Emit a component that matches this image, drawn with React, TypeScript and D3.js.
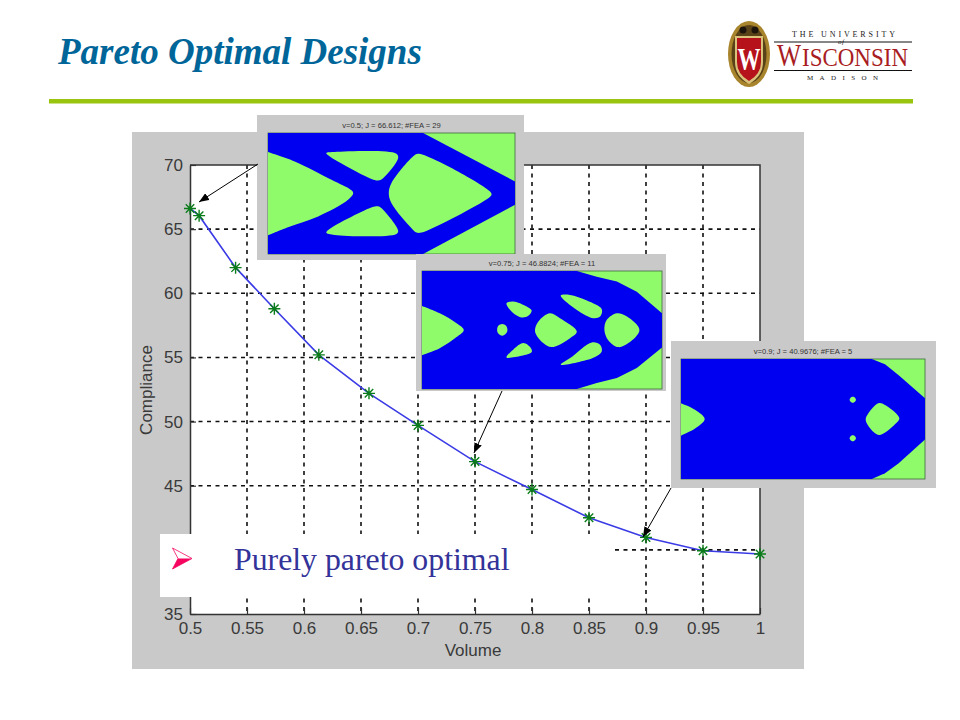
import React, { useEffect, useRef } from "react";
import * as d3 from "d3";

type Pt = [number, number];

const volume = [0.5, 0.508, 0.54, 0.574, 0.613, 0.657, 0.7, 0.75, 0.8, 0.85, 0.9, 0.95, 1];
const compliance = [66.61, 66.05, 62.0, 58.8, 55.2, 52.2, 49.7, 46.88, 44.7, 42.5, 40.97, 39.93, 39.68];
const xTicks = [0.5, 0.55, 0.6, 0.65, 0.7, 0.75, 0.8, 0.85, 0.9, 0.95, 1];
const yTicks = [35, 40, 45, 50, 55, 60, 65, 70];

// outlines, in a 100x100 frame
const outerA: Pt[] = [[0, 0], [62.8, 0], [100, 40], [100, 59.4], [62.8, 100], [0, 100]];
const notchA: Pt[] = [[0, 15.7], [10.8, 23.5], [25.7, 38.7], [33.5, 47], [34.5, 49.7], [32.4, 55.2], [20.3, 69], [8.1, 77.9], [0, 84.5]];
const holesA: Pt[][] = [
  [[23.6, 16.6], [27, 15.7], [52, 17.1], [52.7, 20.7], [46.6, 37.3], [44.6, 39.2], [41.9, 38], [24.9, 19.3]],
  [[60.8, 17.1], [89.9, 48.3], [90.5, 51.1], [89.2, 53.9], [62.2, 82.3], [60.1, 82.3], [58.1, 78.7], [50, 58], [48.9, 49.7], [50, 41.4], [58.8, 19.3]],
  [[43.3, 60.8], [44.9, 60.8], [46.6, 63.5], [52.7, 80.7], [52, 83.4], [27, 84.3], [23.6, 82.3], [40.5, 62.7]],
];

const outerB: Pt[] = [[0, 0], [64.5, 0], [72.8, 4.8], [81.2, 9], [89.5, 17.5], [100, 35.8], [100, 64.8], [89.5, 82.3], [81.2, 90.7], [72.8, 95], [64.5, 100], [0, 100]];
const notchB: Pt[] = [[0, 29.6], [7.4, 35.8], [14.4, 44.2], [17.4, 49.9], [14.4, 56], [7.4, 65.4], [0, 71.3]];
const holesB: Pt[][] = [
  [[35.2, 27.3], [38, 25.9], [43.6, 30.1], [45.7, 33.5], [44.3, 38], [41.5, 39.4], [37.3, 34.3]],
  [[33.4, 45], [35, 46.5], [35.6, 49.9], [35, 53], [33.4, 54.8], [31.8, 53], [31.3, 49.9], [31.8, 46.5]],
  [[53.3, 35.8], [57.5, 40], [64.5, 51.3], [61.7, 56.9], [54, 64.5], [50.5, 61.1], [47.1, 51.3], [48.5, 42.8]],
  [[57.8, 20.8], [61.7, 20.3], [68.7, 25.1], [74.9, 32.4], [74.2, 38.6], [71.4, 40], [64.5, 33]],
  [[81.2, 35.8], [85.4, 38.6], [90.6, 49.9], [86, 61.1], [81.8, 64.5], [77.6, 58.6], [76, 49.9], [77, 41.4]],
  [[35.2, 73.2], [38, 66.7], [42.2, 61.1], [45.4, 65.4], [45.7, 68.7], [41.5, 71.9]],
  [[57.8, 79.4], [61.7, 73.8], [70.8, 60.5], [74.2, 62.5], [74.9, 68.2], [72.1, 72.9], [64.5, 77.5]],
];

const outerC: Pt[] = [[0, 0], [78.2, 0], [83.6, 4.4], [89.1, 13.3], [100, 32.8], [100, 67], [89.1, 87], [83.6, 95.3], [78.2, 100], [0, 100]];
const notchC: Pt[] = [[0, 36.9], [5.9, 42.5], [9.7, 50], [5.9, 57.8], [0, 63.9]];
const holesC: Pt[][] = [
  [[70.4, 31.4], [71.3, 32.2], [71.7, 33.9], [71.3, 35.6], [70.4, 36.4], [69.5, 35.6], [69.1, 33.9], [69.5, 32.2]],
  [[70.4, 63.6], [71.3, 64.4], [71.7, 66.1], [71.3, 67.8], [70.4, 68.6], [69.5, 67.8], [69.1, 66.1], [69.5, 64.4]],
  [[80.9, 36.9], [83.6, 38.3], [89.5, 49.4], [87.7, 54.4], [81.5, 63.3], [78.8, 60.6], [75.7, 50.8], [76.8, 45.3]],
];

const insetTitles = ["v=0.5; J = 66.612; #FEA = 29", "v=0.75; J = 46.8824; #FEA = 11", "v=0.9; J = 40.9676; #FEA = 5"];

// matlab style star: four crossing strokes
const starSymbol = {
  draw(context: any, size: number) {
    const r = Math.sqrt(size);
    const k = r * Math.SQRT1_2;
    context.moveTo(-r, 0);
    context.lineTo(r, 0);
    context.moveTo(0, -r);
    context.lineTo(0, r);
    context.moveTo(-k, -k);
    context.lineTo(k, k);
    context.moveTo(-k, k);
    context.lineTo(k, -k);
  },
};

const App: React.FC = () => {
  const svgRef = useRef<SVGSVGElement | null>(null);

  useEffect(() => {
    if (!svgRef.current) return;
    document.body.style.margin = "0";
    const svg = d3.select(svgRef.current);
    svg.selectAll("*").remove();

    const x = d3.scaleLinear().domain([0.5, 1]).range([190, 760]);
    const y = d3.scaleLinear().domain([35, 70]).range([614, 165]);

    svg.append("rect").attr("width", 960).attr("height", 720).attr("fill", "#fff");

    // slide header
    svg
      .append("text")
      .attr("x", 58)
      .attr("y", 64)
      .attr("font-family", "Liberation Serif")
      .attr("font-weight", "bold")
      .attr("font-style", "italic")
      .attr("font-size", 37)
      .attr("fill", "#006699")
      .text("Pareto Optimal Designs");
    svg.append("rect").attr("x", 49).attr("y", 99).attr("width", 864).attr("height", 4.5).attr("fill", "#99c510");

    // logo
    const logo = svg.append("g");
    logo.append("ellipse").attr("cx", 749).attr("cy", 54).attr("rx", 21).attr("ry", 33).attr("fill", "#a8842c");
    logo.append("ellipse").attr("cx", 749).attr("cy", 54).attr("rx", 17.5).attr("ry", 29).attr("fill", "#5a4218");
    logo.append("path").attr("d", "M735,36 H763 V62 Q763,76 749,84 Q735,76 735,62 Z").attr("fill", "#d9c27a");
    logo.append("path").attr("d", "M737,38 H761 V62 Q761,74 749,81 Q737,74 737,62 Z").attr("fill", "#b5121b");
    logo
      .append("text")
      .attr("x", 749)
      .attr("y", 70)
      .attr("text-anchor", "middle")
      .attr("font-family", "Liberation Serif")
      .attr("font-weight", "bold")
      .attr("font-size", 32)
      .attr("fill", "#fff")
      .attr("textLength", 23)
      .attr("lengthAdjust", "spacingAndGlyphs")
      .text("W");
    logo.append("circle").attr("cx", 743).attr("cy", 30).attr("r", 3.5).attr("fill", "#1c140a");
    logo.append("circle").attr("cx", 755).attr("cy", 30).attr("r", 3.5).attr("fill", "#1c140a");
    logo.append("rect").attr("x", 774).attr("y", 41.5).attr("width", 138).attr("height", 1).attr("fill", "#111");
    logo.append("rect").attr("x", 774).attr("y", 70).attr("width", 138).attr("height", 1).attr("fill", "#111");
    const logoText = (label: string, tx: number, ty: number, size: number, fill: string, width: number, adjust: string, style = "normal") =>
      logo
        .append("text")
        .attr("x", tx)
        .attr("y", ty)
        .attr("font-family", "Liberation Serif")
        .attr("font-size", size)
        .attr("font-style", style)
        .attr("fill", fill)
        .attr("textLength", width)
        .attr("lengthAdjust", adjust)
        .text(label);
    logoText("THE UNIVERSITY", 792, 37, 8, "#222", 103, "spacing");
    logoText("of", 838, 44, 7, "#222", 6, "spacing", "italic");
    logoText("W", 777, 66, 31, "#a81c22", 24, "spacingAndGlyphs");
    logoText("ISCONSIN", 802, 66, 25, "#a81c22", 106, "spacingAndGlyphs");
    logoText("MADISON", 807, 80, 7, "#222", 71, "spacing");

    // figure window
    svg.append("rect").attr("x", 132).attr("y", 132).attr("width", 672).attr("height", 537).attr("fill", "#c9c9c9");
    svg
      .append("rect")
      .attr("x", x(0.5))
      .attr("y", y(70))
      .attr("width", x(1) - x(0.5))
      .attr("height", y(35) - y(70))
      .attr("fill", "#fff");

    const grid = svg.append("g").attr("stroke", "#111").attr("stroke-width", 1.6).attr("stroke-dasharray", "4 4.5");
    grid
      .selectAll("line.v")
      .data(xTicks.slice(1, -1))
      .enter()
      .append("line")
      .attr("x1", (d) => x(d))
      .attr("x2", (d) => x(d))
      .attr("y1", y(70))
      .attr("y2", y(35));
    grid
      .selectAll("line.h")
      .data(yTicks.slice(1, -1))
      .enter()
      .append("line")
      .attr("x1", x(0.5))
      .attr("x2", x(1))
      .attr("y1", (d) => y(d))
      .attr("y2", (d) => y(d));

    const styleAxis = (g: d3.Selection<SVGGElement, unknown, null, undefined>) => {
      g.selectAll("path").attr("stroke", "#333").attr("stroke-width", 1.5);
      g.selectAll("line").attr("stroke", "#333").attr("stroke-width", 1.2);
      g.selectAll("text").attr("font-family", "Liberation Sans").attr("font-size", 17).attr("fill", "#3a3a3a");
    };
    const axisBottom = svg.append("g").attr("transform", `translate(0,${y(35)})`);
    axisBottom.call(
      d3
        .axisBottom(x)
        .tickValues(xTicks)
        .tickFormat((d) => String(d))
        .tickSizeInner(-6)
        .tickSizeOuter(0)
        .tickPadding(8)
    );
    styleAxis(axisBottom as any);
    const axisLeft = svg.append("g").attr("transform", `translate(${x(0.5)},0)`);
    axisLeft.call(d3.axisLeft(y).tickValues(yTicks).tickSizeInner(-6).tickSizeOuter(0).tickPadding(7));
    styleAxis(axisLeft as any);
    svg
      .append("path")
      .attr("d", `M${x(0.5)},${y(70)}H${x(1)}V${y(35)}`)
      .attr("fill", "none")
      .attr("stroke", "#333")
      .attr("stroke-width", 1.5);

    svg
      .append("text")
      .attr("x", 473)
      .attr("y", 656)
      .attr("text-anchor", "middle")
      .attr("font-family", "Liberation Sans")
      .attr("font-size", 17)
      .attr("fill", "#3a3a3a")
      .text("Volume");
    svg
      .append("text")
      .attr("transform", "translate(152,390) rotate(-90)")
      .attr("text-anchor", "middle")
      .attr("font-family", "Liberation Sans")
      .attr("font-size", 17)
      .attr("fill", "#3a3a3a")
      .text("Compliance");

    // pareto curve
    const points = volume.map((v, i) => [v, compliance[i]] as Pt);
    svg
      .append("path")
      .attr(
        "d",
        d3
          .line<Pt>()
          .x((d) => x(d[0]))
          .y((d) => y(d[1]))(points)
      )
      .attr("fill", "none")
      .attr("stroke", "#3b3be6")
      .attr("stroke-width", 1.6);
    svg
      .selectAll("path.marker")
      .data(points)
      .enter()
      .append("path")
      .attr("class", "marker")
      .attr("transform", (d) => `translate(${x(d[0])},${y(d[1])})`)
      .attr("d", d3.symbol().type(starSymbol).size(36)() as string)
      .attr("fill", "none")
      .attr("stroke", "#0a7d1a")
      .attr("stroke-width", 1.4);

    // topology insets
    const closed = d3.line<Pt>().curve(d3.curveLinearClosed);
    const open = d3.line<Pt>().curve(d3.curveCatmullRom.alpha(0.5));
    const smooth = d3.line<Pt>().curve(d3.curveCatmullRomClosed.alpha(0.5));
    const drawInset = (
      box: [number, number, number, number],
      plot: [number, number, number, number],
      title: string,
      outer: Pt[],
      notch: Pt[],
      holes: Pt[][]
    ) => {
      const g = svg.append("g");
      g.append("rect").attr("x", box[0]).attr("y", box[1]).attr("width", box[2] - box[0]).attr("height", box[3] - box[1]).attr("fill", "#c9c9c9");
      g.append("text")
        .attr("x", (plot[0] + plot[2]) / 2)
        .attr("y", plot[1] - 5)
        .attr("text-anchor", "middle")
        .attr("font-family", "Liberation Sans")
        .attr("font-size", 7.6)
        .attr("fill", "#333")
        .text(title);
      const px = d3.scaleLinear().domain([0, 100]).range([plot[0], plot[2]]);
      const py = d3.scaleLinear().domain([0, 100]).range([plot[1], plot[3]]);
      const project = (list: Pt[]) => list.map((d) => [px(d[0]), py(d[1])] as Pt);
      g.append("rect").attr("x", plot[0]).attr("y", plot[1]).attr("width", plot[2] - plot[0]).attr("height", plot[3] - plot[1]).attr("fill", "#90fb6a").attr("stroke", "#3c6a3c").attr("stroke-width", 0.8);
      g.append("path").attr("d", closed(project(outer))).attr("fill", "#0000f0");
      g.append("path").attr("d", open(project(notch)) + "Z").attr("fill", "#90fb6a");
      holes.forEach((h) => {
        g.append("path").attr("d", smooth(project(h))).attr("fill", "#90fb6a");
      });
    };
    drawInset([257, 115, 524, 260], [268, 133, 515, 254], insetTitles[0], outerA, notchA, holesA);
    drawInset([416, 254, 666, 391], [422, 271, 662, 389], insetTitles[1], outerB, notchB, holesB);
    drawInset([671, 341, 936, 488], [681, 359, 925, 479], insetTitles[2], outerC, notchC, holesC);

    // legend box
    svg.append("rect").attr("x", 160).attr("y", 534).attr("width", 454).attr("height", 63).attr("fill", "#fff");
    svg
      .append("path")
      .attr("d", "M172.5,548 L192,558.5 L172.5,569 L178,558.5 Z")
      .attr("fill", "#fff")
      .attr("stroke", "#f5055f")
      .attr("stroke-width", 0.8);
    svg.append("path").attr("d", "M172.5,569 L192,558.5 L178,558.5 Z").attr("fill", "#f5055f");
    svg
      .append("text")
      .attr("x", 234)
      .attr("y", 570)
      .attr("font-family", "Liberation Serif")
      .attr("font-size", 31.8)
      .attr("fill", "#333399")
      .text("Purely pareto optimal");

    // arrows from the insets to their points
    const defs = svg.append("defs");
    defs
      .append("marker")
      .attr("id", "head")
      .attr("viewBox", "0 0 10 8")
      .attr("refX", 10)
      .attr("refY", 4)
      .attr("markerUnits", "userSpaceOnUse")
      .attr("markerWidth", 10)
      .attr("markerHeight", 8)
      .attr("orient", "auto")
      .append("path")
      .attr("d", "M0,0L10,4L0,8Z")
      .attr("fill", "#000");
    const arrows: [Pt, Pt][] = [
      [[258, 164], [199, 202]],
      [[502, 391], [474, 453]],
      [[671, 488], [643, 537]],
    ];
    svg
      .selectAll("line.arrow")
      .data(arrows)
      .enter()
      .append("line")
      .attr("x1", (d) => d[0][0])
      .attr("y1", (d) => d[0][1])
      .attr("x2", (d) => d[1][0])
      .attr("y2", (d) => d[1][1])
      .attr("stroke", "#000")
      .attr("stroke-width", 1)
      .attr("marker-end", "url(#head)");
  }, []);

  return <svg ref={svgRef} width={960} height={720} style={{ display: "block" }} />;
};

export default App;
